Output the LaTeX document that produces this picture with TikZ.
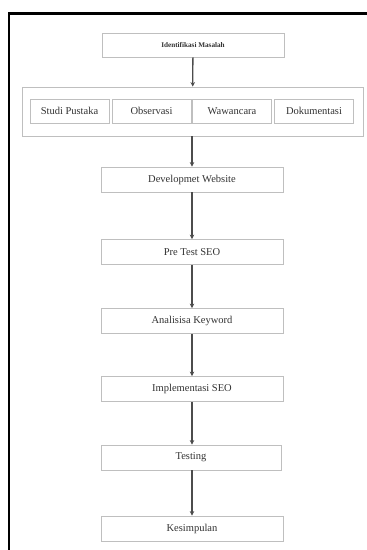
\documentclass[tikz,border=0pt]{standalone}
\usepackage{fontspec}
\setmainfont{Liberation Serif}
\usetikzlibrary{arrows.meta}
\definecolor{boxline}{gray}{0.75}
\definecolor{flowline}{gray}{0.3}
\definecolor{txt}{gray}{0.2}
\tikzset{
    stepbox/.style={draw=boxline, line width=0.8pt, fill=white, text=txt, font=\fontsize{10.5}{12}\selectfont,
        minimum width=182pt, minimum height=25pt, inner sep=0pt},
    subbox/.style={stepbox, minimum width=79pt, minimum height=24pt},
    flow/.style={draw=flowline, line width=1.3pt, -{Stealth[length=4.5pt,width=4.5pt]}}
}
\begin{document}
\begin{tikzpicture}[x=1pt,y=-1pt]
        \useasboundingbox (0,0) rectangle (367,550);
        % frame
        \draw[line width=2.5pt] (9,551) -- (9,13.5) -- (368,13.5);
        
        \node[stepbox, minimum height=24pt, font=\fontsize{7.2}{9}\selectfont\bfseries] (ident) at (193,45) {Identifikasi Masalah};
        
        \node[stepbox, minimum width=341pt, minimum height=49pt] (group) at (192.5,111.5) {};
        \node[subbox] (studi) at (69.5,111) {Studi Pustaka};
        \node[subbox] (obs) at (151.5,111) {Observasi};
        \node[subbox] (waw) at (232,111) {Wawancara};
        \node[subbox] (dok) at (314,111) {Dokumentasi};
        
        \node[stepbox] (dev) at (192,179.5) {Developmet Website};
        \node[stepbox] (pre) at (192,252) {Pre Test SEO};
        \node[stepbox] (key) at (192,321) {Analisisa Keyword};
        \node[stepbox] (impl) at (192,389) {Implementasi SEO};
        \node[stepbox, minimum width=180pt] (test) at (191,457.5) {Testing};
        \node[stepbox] (kes) at (192,528.5) {Kesimpulan};
        
        % arrows from top to down
        \draw[flow] (ident) -- (group);
        \draw[flow] (group.south -| dev) -- (dev);
        \draw[flow] (dev) -- (pre);
        \draw[flow] (pre) -- (key);
        \draw[flow] (key) -- (impl);
        \draw[flow] (impl) -- (impl |- test.north);
        \draw[flow] (test.south -| kes) -- (kes);
    \end{tikzpicture}
\end{document}
